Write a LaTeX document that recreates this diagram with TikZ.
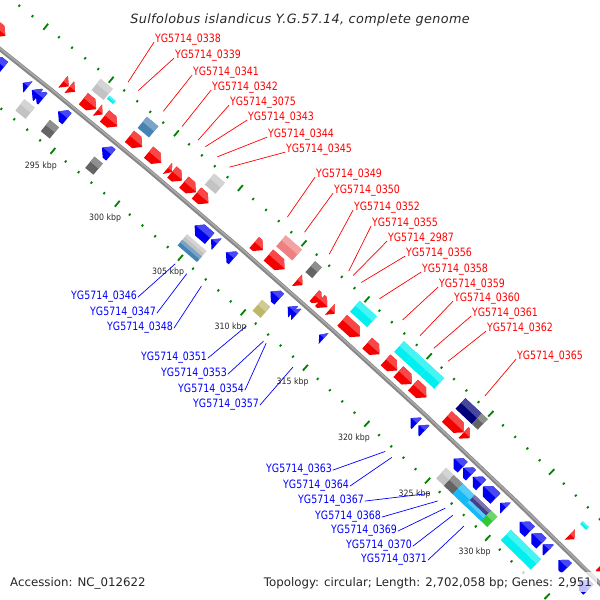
\documentclass[tikz,border=0pt]{standalone}
\usepackage{fontspec}
\usepackage{tikz}
\setsansfont{DejaVu Sans}
\newfontfamily\genefont[FakeStretch=0.82]{DejaVu Sans}
\newfontfamily\tickfont[FakeStretch=0.9]{DejaVu Sans}
\newfontfamily\titlefont[LetterSpace=3]{DejaVu Sans Oblique}
\newfontfamily\infofont{DejaVu Sans}
\definecolor{cgred}{RGB}{245,0,0}
\definecolor{cgblue}{RGB}{0,0,240}
\definecolor{cgfwdtext}{RGB}{255,0,0}
\definecolor{cgrevtext}{RGB}{0,0,255}
\definecolor{cglightgray}{RGB}{195,195,195}
\definecolor{cgdarkgray}{RGB}{100,100,100}
\definecolor{cgsteel}{RGB}{70,130,180}
\definecolor{cgpink}{RGB}{238,128,128}
\definecolor{cgcyan}{RGB}{0,240,240}
\definecolor{cgnavy}{RGB}{0,0,120}
\definecolor{cgkhaki}{RGB}{189,183,107}
\definecolor{cgsky}{RGB}{20,185,245}
\definecolor{cgslate}{RGB}{72,61,139}
\definecolor{cglime}{RGB}{50,200,50}
\definecolor{cgtick}{RGB}{0,130,0}
\definecolor{cgbackbone}{RGB}{135,135,135}
\definecolor{cgtext}{RGB}{40,40,40}
% gen: start, koniec (kbp), promien wewn., zewn., kierunek (1, -1, 0), kolor
\newcommand{\gene}[6]{%
 \pgfmathsetmacro\gmid{(#1+#2)/2}%
 \pgfmathsetmacro\grot{50-(\gmid-300)*0.13323-90}%
 \pgfmathsetmacro\ga{(#2-#1)*8.255}%
 \pgfmathsetmacro\gh{min(7,2*\ga)}%
 \pgfmathsetmacro\gm{(#3+#4)/2}%
 \pgfmathsetmacro\gl{#3+0.55*(#4-#3)}%
 \begin{scope}[shift={(cen)},rotate=\grot,shift={(0,7100)}]
 \ifnum#5=1
  \fill[#6] (-\ga,#3) -- ({\ga-\gh},#3) -- (\ga,\gm) -- ({\ga-\gh},#4) -- (-\ga,#4) -- cycle;
  \fill[#6!72!white] (-\ga,\gl) -- ({\ga-0.1*\gh},\gl) -- ({\ga-\gh},#4) -- (-\ga,#4) -- cycle;
 \else\ifnum#5=-1
  \fill[#6] (\ga,#3) -- ({-\ga+\gh},#3) -- (-\ga,\gm) -- ({-\ga+\gh},#4) -- (\ga,#4) -- cycle;
  \fill[#6!72!white] (\ga,\gl) -- ({-\ga+0.1*\gh},\gl) -- ({-\ga+\gh},#4) -- (\ga,#4) -- cycle;
 \else
  \fill[#6] (-\ga,#3) rectangle (\ga,#4);
  \fill[#6!72!white] (-\ga,\gl) rectangle (\ga,#4);
 \fi\fi
 \end{scope}}
% opis genu z nicia do genu
\newcommand{\fwdlab}[4]{%
 \pgfmathsetmacro\la{50-(#2-300)*0.13323}%
 \path[shift={(cen)}] (\la:7155) coordinate (p#1);
 \node[genelab,text=cgfwdtext,anchor=base west] (l#1) at (#3-1,600-#4-4.2) {YG5714\_#1};
 \draw[cgfwdtext,line width=.7pt] (p#1) -- (l#1.base west);}
\newcommand{\revlab}[4]{%
 \pgfmathsetmacro\la{50-(#2-300)*0.13323}%
 \path[shift={(cen)}] (\la:7046) coordinate (p#1);
 \node[genelab,text=cgrevtext,anchor=base east] (l#1) at (#3+1,600-#4-4.2) {YG5714\_#1};
 \draw[cgrevtext,line width=.7pt] (p#1) -- (l#1.mid east);}

\begin{document}
\begin{tikzpicture}[x=1pt,y=1pt,line cap=round,line join=round,
 genelab/.style={font=\genefont\fontsize{11.5}{12}\selectfont,inner sep=1pt,outer sep=0pt},
 ticklab/.style={font=\tickfont\fontsize{8.7}{9}\selectfont,text=cgtext,inner sep=0pt}]
\useasboundingbox (0,0) rectangle (600,600);
\clip (0,0) rectangle (600,600);
\coordinate (cen) at (-4417,-5007.4);
% podzialka: kropki co 1 kbp, kreski co 5 kbp
\foreach \k in {286,...,338}{
 \pgfmathsetmacro\ta{50-(\k-300)*1.0145*0.13323}
 \pgfmathtruncatemacro\tm{mod(\k,5)}
 \ifnum\tm=0 \def\tl{3.8}\else\def\tl{1.2}\fi
 \draw[cgtick,line width=1.8pt,line cap=butt,shift={(cen)}] (\ta:{7146-\tl}) -- (\ta:{7146+\tl});
 \draw[cgtick,line width=1.8pt,line cap=butt,shift={(cen)}] (\ta:{7054-\tl}) -- (\ta:{7054+\tl});
}
\foreach \k in {295,300,...,330}{
 \pgfmathsetmacro\ta{50-(\k-300)*1.0145*0.13323}
 \path[shift={(cen)}] (\ta:7035) coordinate (tc\k);
 \node[ticklab] (t\k) at (tc\k) {\k\ kbp};
}
% szkielet genomu
\draw[cgbackbone,line width=4.2pt,line cap=butt,shift={(cen)}] plot[domain=44.2:52,samples=40] (\x:7100);
\draw[cgbackbone!70!white,line width=1.4pt,line cap=butt,shift={(cen)}] plot[domain=44.2:52,samples=40] (\x:7100.6);
% geny na nici +
\foreach \s/\e in {286.4/288.3,292.75/293.2,293.25/293.7,294.35/295.35,295.45/295.85,296.0/297.0,
 297.95/298.95,299.45/300.45,300.95/301.3,301.3/302.1,302.25/303.2,303.25/304.2,307.85/308.55,
 309.0/310.3,311.3/311.75,312.7/313.3,313.15/313.75,313.95/314.35,314.95/316.4,317.0/318.0,
 318.5/319.45,319.55/320.65,320.75/321.85,323.55/324.95,324.95/325.45,333.85/334.25,336.5/337.0}
 {\gene{\s}{\e}{6.5}{21}{1}{cgred}}
% geny na nici -
\foreach \s/\e in {288.5/289.4,290.9/291.3,291.6/292.1,291.9/292.45,293.65/294.35,297.1/297.8,
 304.45/305.65,305.75/306.2,306.95/307.55,310.55/311.25,311.95/312.4,312.2/312.65,314.5/314.85,
 322.0/322.5,322.65/323.15,325.6/326.35,326.4/327.05,327.2/327.9,328.05/329.1,329.5/329.95,
 331.15/332.0,332.15/333.0,333.1/333.6,334.45/335.15,336.2/337.0}
 {\gene{\s}{\e}{-19.5}{-5}{-1}{cgblue}}
% kategorie COG
\foreach \s/\e/\c in {294.4/295.35/cglightgray,298.0/298.9/cgsteel,303.3/304.15/cglightgray,
 309.0/310.3/cgpink,311.35/311.9/cgdarkgray,314.95/316.35/cgcyan,318.55/319.5/cgcyan,
 319.5/320.7/cgcyan,320.7/321.85/cgcyan,323.6/324.95/cgnavy,324.95/325.45/cgdarkgray}
 {\gene{\s}{\e}{25.5}{40}{0}{\c}}
\gene{295.45}{295.95}{28.5}{32.5}{0}{cgcyan}
\gene{333.85}{334.35}{28.5}{32.5}{0}{cgcyan}
\foreach \s/\e/\c in {291.6/292.4/cglightgray,293.6/294.3/cgdarkgray,297.1/297.75/cgdarkgray,
 310.5/311.15/cgkhaki,325.65/326.3/cglightgray,326.3/327.05/cgdarkgray,327.05/328.05/cgsky,
 329.4/329.95/cglime,331.1/333.65/cgcyan}
 {\gene{\s}{\e}{-38.5}{-24}{0}{\c}}
\gene{304.45}{306.0}{-31.25}{-24}{0}{cglightgray}
\gene{304.45}{306.0}{-38.5}{-31.25}{0}{cgsteel}
\gene{328.05}{329.4}{-31.25}{-24}{0}{cgslate}
\gene{328.05}{329.4}{-38.5}{-31.25}{0}{cgsky}
% opisy genow
\fwdlab{0338}{295.8}{155}{38}
\fwdlab{0339}{296.6}{175}{54}
\fwdlab{0341}{298.55}{193}{71}
\fwdlab{0342}{300.0}{212}{86}
\fwdlab{3075}{301.27}{230}{101}
\fwdlab{0343}{301.86}{248}{116}
\fwdlab{0344}{302.81}{268}{133}
\fwdlab{0345}{303.76}{286}{148}
\fwdlab{0349}{308.35}{316}{173}
\fwdlab{0350}{309.73}{334}{189}
\fwdlab{0352}{311.71}{354}{206}
\fwdlab{0355}{313.26}{372}{222}
\fwdlab{2987}{313.64}{388}{237}
\fwdlab{0356}{314.29}{406}{252}
\fwdlab{0358}{315.75}{422}{268}
\fwdlab{0359}{317.64}{439}{283}
\fwdlab{0360}{319.05}{454}{297}
\fwdlab{0361}{320.17}{472}{312}
\fwdlab{0362}{321.33}{487}{327}
\fwdlab{0365}{324.37}{517}{355}
\revlab{0346}{305.07}{137}{295}
\revlab{0347}{306.0}{156}{311}
\revlab{0348}{307.17}{173}{326}
\revlab{0351}{310.84}{207}{356}
\revlab{0353}{312.23}{227}{372}
\revlab{0354}{312.44}{244}{388}
\revlab{0357}{314.63}{259}{403}
\revlab{0363}{322.25}{332}{468}
\revlab{0364}{322.8}{349}{484}
\revlab{0367}{325.98}{364}{499}
\revlab{0368}{326.66}{381}{515}
\revlab{0369}{327.3}{397}{529}
\revlab{0370}{327.93}{412}{544}
\revlab{0371}{328.88}{427}{558}
% tytul i stopka
\node[font=\titlefont\fontsize{12.8}{14}\selectfont,text=cgtext,anchor=base,inner sep=0pt] (title) at (300,576.7)
 {Sulfolobus islandicus Y.G.57.14, complete genome};
\fill[white,opacity=.75] (5,8) rectangle (148,28);
\fill[white,opacity=.75] (257,8) rectangle (597,28);
\node[font=\infofont\fontsize{11.8}{13}\selectfont,text=black!85,anchor=base west,inner sep=0pt] (acc) at (10,13)
 {Accession: NC\_012622};
\node[font=\infofont\fontsize{11.8}{13}\selectfont,text=black!85,anchor=base east,inner sep=0pt] (topo) at (592,13)
 {Topology: circular; Length: 2,702,058 bp; Genes: 2,951};
\end{tikzpicture}
\end{document}
